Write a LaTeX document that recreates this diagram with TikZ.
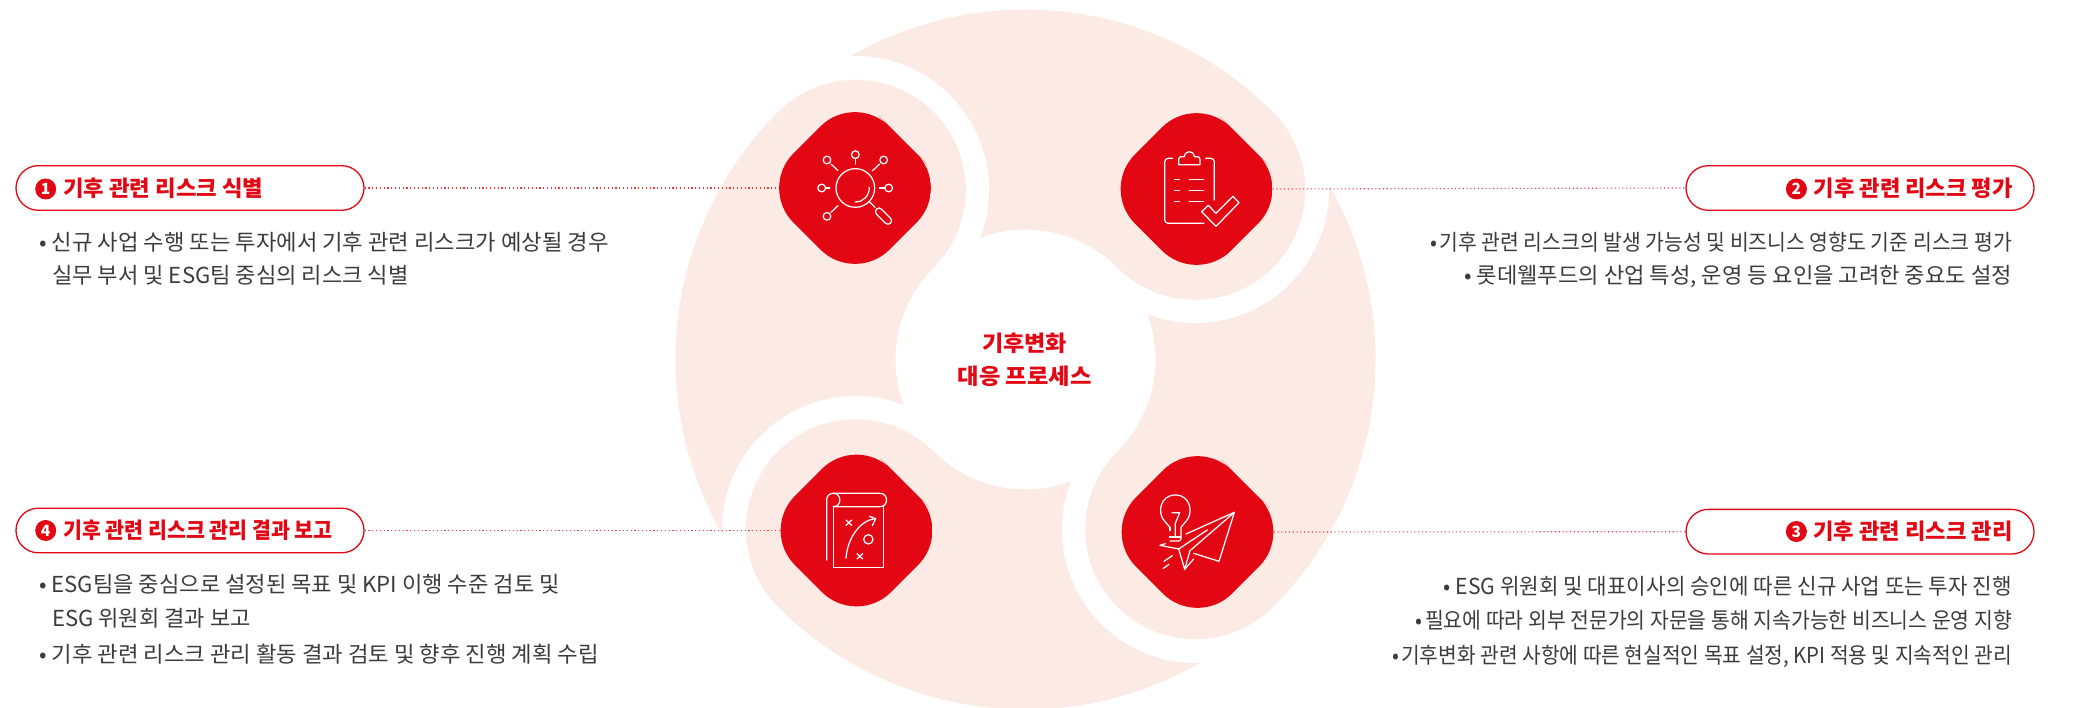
\documentclass[tikz,border=0pt]{standalone}
\usepackage{graphicx}
\usepackage{fontspec}
\setmainfont{Noto Sans CJK KR}
\definecolor{brandred}{HTML}{E30613}
\definecolor{petalpink}{HTML}{FCEBE5}
\definecolor{bodygray}{HTML}{3C3C3C}
\newcommand{\bodyL}[5]{\node[bodytxt,anchor=base west] (#1) at (#2,#3) {\resizebox{#4pt}{\height}{#5}};}
\newcommand{\bodyR}[5]{\node[bodytxt,anchor=base east] (#1) at (#2,#3) {\resizebox{#4pt}{\height}{#5}};}
\newcommand{\headL}[5]{\node[headtxt,anchor=base west] (#1) at (#2,#3) {\resizebox{#4pt}{\height}{#5}};}
\tikzset{
  petal/.style={fill=petalpink,draw=none},
  pill/.style={rectangle,draw=brandred,line width=1.3pt,fill=white,rounded corners=22.3pt,minimum width=348pt,minimum height=44.6pt,inner sep=0pt},
  hub/.style={circle,minimum size=152pt,inner sep=0pt,
    path picture={\fill[brandred,shift={(path picture bounding box.center)},rounded corners=49pt] (48,48) -- (0,96.17) -- (-96.17,0) -- (0,-96.17) -- (96.17,0) -- cycle;}},
  dotline/.style={draw=brandred!80,line width=1.1pt,dash pattern=on 1.1pt off 2.7pt},
  badge/.style={circle,fill=brandred,text=white,minimum size=21pt,inner sep=0pt,font=\fontsize{15.5}{15.5}\selectfont\bfseries},
  bodytxt/.style={inner sep=0pt,text=bodygray,font=\fontsize{22}{26}\selectfont},
  headtxt/.style={inner sep=0pt,text=brandred,font=\fontsize{22}{26}\selectfont\bfseries},
  ico/.style={draw=white,line width=1.25pt,line cap=round,line join=round},
  icoscale/.style={x=0.33333pt,y=-0.33333pt}
}
\begin{document}
\begin{tikzpicture}[x=1pt,y=1pt]
\useasboundingbox (0,0) rectangle (2079,708);
\fill[white] (0,0) rectangle (2079,708);
% petals
\begin{scope}[shift={(1025.5,348.5)}]
\foreach \a in {0,-90,-180,-270}{
  \fill[petal,rotate=\a] (209.9:350)
    arc[start angle=209.9,end angle=135,radius=350]
    arc[start angle=135,end angle=-45,radius=110]
    arc[start angle=135,end angle=200.4,radius=130]
    arc[start angle=68.9,end angle=181.8,radius=133.7] -- cycle;
}
\end{scope}
% pills
\node[pill] (pill1) at (190,520) {};
\node[pill] (pill2) at (1860,520) {};
\node[pill] (pill3) at (1860,176.3) {};
\node[pill] (pill4) at (190,177.5) {};
% diamonds
\node[hub] (dia1) at (855,520) {};
\node[hub] (dia2) at (1196.5,519) {};
\node[hub] (dia3) at (1197.5,176) {};
\node[hub] (dia4) at (856.5,177.5) {};
% connectors
\draw[dotline] (pill1.east) -- (dia1.west);
\draw[dotline] (dia2.east) -- (pill2.west);
\draw[dotline] (dia3.east) -- (pill3.west);
\draw[dotline] (pill4.east) -- (dia4.west);
% centre
\headL{c1}{982}{356}{85}{기후변화}
\headL{c2}{957.5}{323}{134}{대응 프로세스}
% badges
\node[badge] (b1) at (45.7,519) {1};
\node[badge] (b2) at (1796.4,519) {2};
\node[badge] (b3) at (1796.4,176.5) {3};
\node[badge] (b4) at (45.7,177.5) {4};
% headings
\headL{h1}{63}{511}{200}{기후 관련 리스크 식별}
\headL{h2}{1813.5}{511}{199}{기후 관련 리스크 평가}
\headL{h3}{1813.3}{168.3}{199}{기후 관련 리스크 관리}
\headL{h4}{63}{169.5}{269.5}{기후 관련 리스크 관리 결과 보고}
% body
\bodyL{l11}{39}{457}{569.5}{• 신규 사업 수행 또는 투자에서 기후 관련 리스크가 예상될 경우}
\bodyL{l12}{52}{424}{356.5}{실무 부서 및 ESG팀 중심의 리스크 식별}
\bodyR{l21}{2012}{457}{581}{•\hspace{.08em}기후 관련 리스크의 발생 가능성 및 비즈니스 영향도 기준 리스크 평가}
\bodyR{l22}{2012}{424}{547.5}{• 롯데웰푸드의 산업 특성, 운영 등 요인을 고려한 중요도 설정}
\bodyR{l31}{2012}{113.3}{568}{• ESG 위원회 및 대표이사의 승인에 따른 신규 사업 또는 투자 진행}
\bodyR{l32}{2012}{79.3}{596}{•\hspace{.12em}필요에 따라 외부 전문가의 자문을 통해 지속가능한 비즈니스 운영 지향}
\bodyR{l33}{2012}{44.3}{619}{•\hspace{.08em}기후변화 관련 사항에 따른 현실적인 목표 설정, KPI 적용 및 지속적인 관리}
\bodyL{l41}{39}{115.7}{520.5}{• ESG팀을 중심으로 설정된 목표 및 KPI 이행 수준 검토 및}
\bodyL{l42}{52}{81}{198.5}{ESG 위원회 결과 보고}
\bodyL{l43}{39}{45}{559.5}{• 기후 관련 리스크 관리 활동 결과 검토 및 향후 진행 계획 수립}
% icon 1: magnifier
\begin{scope}[shift={(760,608)},icoscale]
\draw[ico] (286,264) circle[radius=58];
\draw[ico] (286,306) .. controls (310,306) and (328,288) .. (328,262);
\draw[ico] (328,305) -- (345,322);
\draw[ico,rounded corners=3.4pt] (342,335) -- (357,320) -- (399,362) -- (384,377) -- cycle;
\foreach \p/\q/\r in {201/180/0,286/164/0,371/180/0,185/264/0,386/264/0,201/349/0}
  \draw[ico] (\p,\q) circle[radius=11.5];
\draw[ico] (213,192) -- (234,212);
\draw[ico] (286,176) -- (286,192);
\draw[ico] (359,192) -- (338,212);
\draw[ico] (197,264) -- (209,264);
\draw[ico] (374,264) -- (358,264);
\draw[ico] (213,337) -- (234,317);
\end{scope}
% icon 2: clipboard
\begin{scope}[shift={(1100,608)},icoscale]
\draw[ico,rounded corners=3.5pt] (218,175) -- (194,175) -- (194,370) -- (312,370);
\draw[ico,rounded corners=3.5pt] (317,175) -- (343,175) -- (343,300);
\draw[ico] (236,194) -- (300,194) -- (300,178) .. controls (300,173) and (296,170) .. (292,170) -- (283,170) .. controls (281,150) and (255,150) .. (253,170) -- (244,170) .. controls (240,170) and (236,173) .. (236,178) -- cycle;
\foreach \yy in {238,271,305}{
  \draw[ico] (224,\yy) -- (238,\yy);
  \draw[ico] (268,\yy) -- (311,\yy);
}
\draw[ico] (305,335) -- (325,316) -- (348,340) -- (399,289) -- (417,308) -- (348,379) -- cycle;
\end{scope}
% icon 3: playbook
\begin{scope}[shift={(760,268)},icoscale]
\draw[ico] (220,200) rectangle (371,383);
\draw[ico] (200,360) -- (200,180) .. controls (200,168) and (208,160) .. (220,160) -- (360,160) .. controls (386,160) and (386,200) .. (360,200) -- (220,200);
\draw[ico] (220,160) .. controls (246,160) and (246,200) .. (220,200);
\draw[ico] (258,355) .. controls (262,295) and (300,240) .. (347,236);
\draw[ico] (328,229) -- (347,236) -- (337,257);
\draw[ico] (258,240) -- (275,256);
\draw[ico] (275,240) -- (258,256);
\draw[ico] (291,341) -- (308,357);
\draw[ico] (308,341) -- (291,357);
\draw[ico] (325,298) circle[radius=14];
\end{scope}
% icon 4: bulb and plane
\begin{scope}[shift={(1100,268)},icoscale]
\draw[ico] (210,262) -- (195,245) .. controls (170,220) and (180,165) .. (226,165) .. controls (272,165) and (282,220) .. (257,245) -- (243,262) -- (243,295) .. controls (243,300) and (240,303) .. (236,303) -- (210,303);
\draw[ico] (216,218) -- (239,218) -- (226,250) -- (226,288);
\draw[ico] (210,262) -- (210,272);
\draw[ico] (208,291) -- (243,291);
\draw[ico] (258,282) -- (403,217) -- (357,364) -- (281,340);
\draw[ico] (196,311) -- (180,316) -- (236,327) -- (322,270);
\draw[ico] (236,327) -- (254,388) -- (270,332) -- (403,217);
\draw[ico] (254,388) -- (281,357);
\draw[ico] (192,364) -- (217,347);
\draw[ico] (189,386) -- (207,373);
\end{scope}
\end{tikzpicture}
\end{document}
